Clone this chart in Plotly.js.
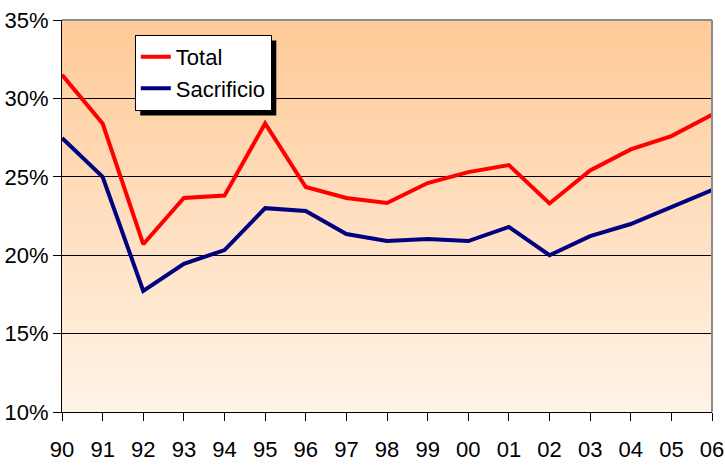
<!DOCTYPE html>
<html>
<head>
<meta charset="utf-8">
<script src="https://cdn.plot.ly/plotly-3.0.1.min.js"></script>
<style>html,body{margin:0;padding:0;background:#fff;}#chart{width:725px;height:465px;}</style>
</head>
<body>
<div id="chart"></div>
<script>
var years = ['90','91','92','93','94','95','96','97','98','99','00','01','02','03','04','05','06'];
var total = [31.5, 28.4, 20.7, 23.65, 23.8, 28.4, 24.35, 23.65, 23.33, 24.6, 25.3, 25.75, 23.3, 25.4, 26.75, 27.6, 28.95];
var sacrificio = [27.47, 25.0, 17.72, 19.45, 20.33, 23.0, 22.82, 21.35, 20.9, 21.03, 20.9, 21.8, 20.0, 21.22, 21.99, 23.07, 24.16];
var seriesNames = ['Total', 'Sacrificio'];

var FONT = '"Liberation Sans Narrow", "Arial Narrow", "Liberation Sans", Arial, sans-serif';

var grad = 'data:image/svg+xml;utf8,' + encodeURIComponent(
  '<svg xmlns="http://www.w3.org/2000/svg" width="10" height="100" preserveAspectRatio="none">' +
  '<defs><linearGradient id="g" x1="0" y1="0" x2="0" y2="1">' +
  '<stop offset="0" stop-color="#FFCA97"/><stop offset="1" stop-color="#FFF3E7"/>' +
  '</linearGradient></defs><rect width="10" height="100" fill="url(#g)"/></svg>');

var traces = [
  {x: years, y: total, name: seriesNames[0], type: 'scatter', mode: 'lines',
   line: {color: '#FF0000', width: 4}},
  {x: years, y: sacrificio, name: seriesNames[1], type: 'scatter', mode: 'lines',
   line: {color: '#000080', width: 4}}
];

var baseShapes = [
  {type: 'line', xref: 'paper', yref: 'paper', x0: 0, x1: 1, y0: 1, y1: 1,
   line: {color: '#8C8C8C', width: 2}},
  {type: 'line', xref: 'paper', yref: 'paper', x0: 1, x1: 1, y0: 0, y1: 1,
   line: {color: '#8C8C8C', width: 2}}
];

var layout = {
  width: 725, height: 465,
  margin: {l: 62, r: 13, t: 20, b: 53},
  paper_bgcolor: '#FFFFFF',
  plot_bgcolor: 'rgba(0,0,0,0)',
  font: {family: FONT, size: 22, color: '#000'},
  showlegend: true,
  legend: {
    x: 0.112, y: 0.962, xanchor: 'left', yanchor: 'top',
    bgcolor: '#FFFFFF', bordercolor: '#000000', borderwidth: 1,
    font: {family: FONT, size: 22, color: '#000'},
    tracegroupgap: 0
  },
  xaxis: {
    type: 'category', range: [0, 16],
    showgrid: false, zeroline: false,
    showline: true, linecolor: '#000', linewidth: 1,
    ticks: 'outside', ticklen: 8, tickcolor: '#000', tickwidth: 1,
    ticklabelstandoff: 10,
    tickfont: {family: FONT, size: 22, color: '#000'},
    fixedrange: true
  },
  yaxis: {
    range: [10, 35], dtick: 5, tick0: 10,
    ticksuffix: '%',
    showgrid: true, gridcolor: '#000', gridwidth: 1,
    zeroline: false,
    showline: true, linecolor: '#000', linewidth: 1,
    ticks: 'outside', ticklen: 8, tickcolor: '#000', tickwidth: 1,
    tickfont: {family: FONT, size: 22, color: '#000'},
    fixedrange: true
  },
  images: [{
    source: grad, xref: 'paper', yref: 'paper',
    x: 0, y: 1, sizex: 1, sizey: 1, sizing: 'stretch',
    xanchor: 'left', yanchor: 'top', layer: 'below'
  }],
  shapes: baseShapes
};

Plotly.newPlot('chart', traces, layout, {displayModeBar: false, staticPlot: true}).then(function (gd) {
  // add a drop shadow behind the legend box, sized from the rendered legend
  var bg = gd.querySelector('.legend .bg');
  var leg = gd.querySelector('.legend');
  if (!bg || !leg) return;
  var r = bg.getBoundingClientRect();
  var box = gd.getBoundingClientRect();
  var fs = gd._fullLayout._size;
  var off = 5;
  var px0 = r.left - box.left + off, px1 = r.right - box.left + off;
  var py0 = r.top - box.top + off, py1 = r.bottom - box.top + off;
  var shadow = {
    type: 'rect', xref: 'paper', yref: 'paper',
    x0: (px0 - fs.l) / fs.w, x1: (px1 - fs.l) / fs.w,
    y0: 1 - (py1 - fs.t) / fs.h, y1: 1 - (py0 - fs.t) / fs.h,
    fillcolor: '#000', line: {width: 0}, layer: 'above'
  };
  return Plotly.relayout(gd, {shapes: baseShapes.concat([shadow])});
});
</script>
</body>
</html>
